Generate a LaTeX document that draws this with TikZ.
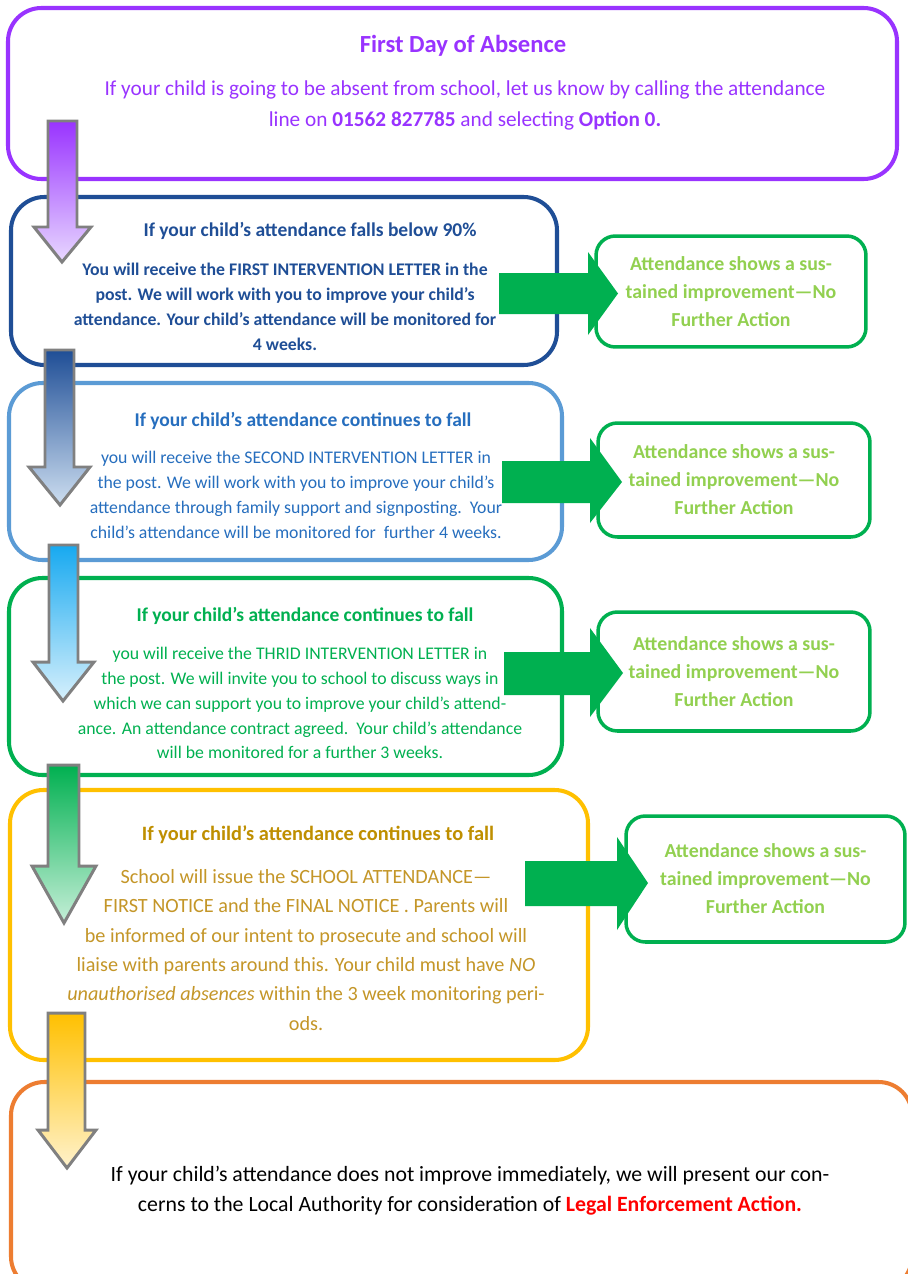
\documentclass[tikz,border=0pt]{standalone}
\usepackage{fontspec}
\setmainfont{Carlito}
\usetikzlibrary{shadings}

\definecolor{absentpurple}{RGB}{153,51,255}
\definecolor{firstblue}{RGB}{31,78,150}
\definecolor{secondline}{RGB}{91,155,213}
\definecolor{secondtext}{RGB}{38,110,190}
\definecolor{okgreen}{RGB}{0,176,80}
\definecolor{oktext}{RGB}{146,208,80}
\definecolor{noticeline}{RGB}{255,192,0}
\definecolor{noticetext}{RGB}{196,150,40}
\definecolor{noticehead}{RGB}{191,143,0}
\definecolor{legalline}{RGB}{237,125,49}
\definecolor{arrowgray}{RGB}{128,128,128}

\tikzset{
  stage/.style={line width=2.3pt, rounded corners=19pt},
  nofa/.style={draw=okgreen, line width=2pt, rounded corners=11pt, align=center,
    text=oktext, font=\bfseries\fontsize{11.3}{15.9}\selectfont},
  headtxt/.style={font=\bfseries\fontsize{11.1}{13}\selectfont},
  bodytxt/.style={align=center, font=\fontsize{10.1}{14.2}\selectfont},
  downarrow/.style={draw=arrowgray, line width=1.7pt},
  sidearrow/.style={fill=okgreen}
}

\begin{document}
\begin{tikzpicture}[x=0.02cm,y=-0.02cm]
    \clip (0,0) rectangle (908,1274);
    \fill[white] (0,0) rectangle (908,1274);

    % stages
    \draw[stage, draw=absentpurple] (8,8) rectangle (897,179);
    \draw[stage, draw=firstblue]    (11,197) rectangle (557,365);
    \draw[stage, draw=secondline]   (9,383) rectangle (562,560);
    \draw[stage, draw=okgreen]      (9,578) rectangle (562,775);
    \draw[stage, draw=noticeline]   (10,790) rectangle (588,1060);
    \draw[stage, draw=legalline]    (11,1082) rectangle (912,1290);

    % texts
    \node[headtxt, text=absentpurple, font=\bfseries\fontsize{14}{16}\selectfont] (absenthead) at (463,46) {First Day of Absence};
    \node[bodytxt, text=absentpurple, font=\fontsize{12.1}{17.6}\selectfont] (absentbody) at (465,105)
      {If your child is going to be absent from school, let us know by calling the attendance\\
       line on \textbf{01562 827785} and selecting \textbf{Option 0.}};

    \node[headtxt, text=firstblue] (firsthead) at (310,231) {If your child’s attendance falls below 90\%};
    \node[bodytxt, text=firstblue, font=\bfseries\fontsize{10.1}{14.2}\selectfont] (firstbody) at (285,307)
      {You will receive the FIRST INTERVENTION LETTER in the\\
       post. We will work with you to improve your child’s\\
       attendance. Your child’s attendance will be monitored for\\
       4 weeks.};

    \node[headtxt, text=secondtext] (secondhead) at (303,421) {If your child’s attendance continues to fall};
    \node[bodytxt, text=secondtext] (secondbody) at (296,495)
      {you will receive the SECOND INTERVENTION LETTER in\\
       the post. We will work with you to improve your child’s\\
       attendance through family support and signposting.\ \ Your\\
       child’s attendance will be monitored for\ \ further 4 weeks.};

    \node[headtxt, text=okgreen] (thirdhead) at (305,616) {If your child’s attendance continues to fall};
    \node[bodytxt, text=okgreen] (thirdbody) at (300,703)
      {you will receive the THRID INTERVENTION LETTER in\\
       the post. We will invite you to school to discuss ways in\\
       which we can support you to improve your child’s attend-\\
       ance. An attendance contract agreed.\ \ Your child’s attendance\\
       will be monitored for a further 3 weeks.};

    \node[headtxt, text=noticehead, font=\bfseries\fontsize{11.6}{13}\selectfont] (noticehead) at (318,835) {If your child’s attendance continues to fall};
    \node[bodytxt, text=noticetext, font=\fontsize{11.5}{16.7}\selectfont] (noticebody) at (306,950)
      {School will issue the SCHOOL ATTENDANCE—\\
       FIRST NOTICE and the FINAL NOTICE . Parents will\\
       be informed of our intent to prosecute and school will\\
       liaise with parents around this. Your child must have \textit{NO}\\
       \textit{unauthorised absences} within the 3 week monitoring peri-\\
       ods.};

    \node[bodytxt, text=black, font=\fontsize{12.4}{17}\selectfont] (legalbody) at (470,1191)
      {If your child’s attendance does not improve immediately, we will present our con-\\
       cerns to the Local Authority for consideration of \textcolor{red}{\textbf{Legal Enforcement Action.}}};

    % no further action
    \node[nofa, minimum width=5.4cm, minimum height=2.22cm]  (ok1) at (731,291.5) {Attendance shows a sus-\\tained improvement—No\\Further Action};
    \node[nofa, minimum width=5.44cm, minimum height=2.28cm] (ok2) at (734,480) {Attendance shows a sus-\\tained improvement—No\\Further Action};
    \node[nofa, minimum width=5.44cm, minimum height=2.38cm] (ok3) at (734,671.5) {Attendance shows a sus-\\tained improvement—No\\Further Action};
    \node[nofa, minimum width=5.58cm, minimum height=2.52cm] (ok4) at (765.5,879) {Attendance shows a sus-\\tained improvement—No\\Further Action};

    % side arrows
    \fill[sidearrow] (499,273) -- (588,273) -- (588,252) -- (618,293.5) -- (588,335) -- (588,314) -- (499,314) -- cycle;
    \fill[sidearrow] (502,461) -- (590,461) -- (590,438) -- (622,482) -- (590,523) -- (590,503) -- (502,503) -- cycle;
    \fill[sidearrow] (504,652) -- (590,652) -- (590,628) -- (623,673) -- (590,717) -- (590,695) -- (504,695) -- cycle;
    \fill[sidearrow] (525,861) -- (617,861) -- (617,837) -- (648,883) -- (617,930) -- (617,906) -- (525,906) -- cycle;

    % down arrows
    \shadedraw[downarrow, top color=absentpurple, bottom color={rgb,255:red,232;green,216;blue,255}]
      (48,121) -- (77,121) -- (77,227) -- (91,227) -- (62,262) -- (34,227) -- (48,227) -- cycle;
    \shadedraw[downarrow, top color=firstblue, bottom color={rgb,255:red,205;green,222;blue,240}]
      (45,350) -- (74,350) -- (74,467) -- (90,467) -- (60,505) -- (29,467) -- (45,467) -- cycle;
    \shadedraw[downarrow, top color={rgb,255:red,23;green,169;blue,240}, bottom color={rgb,255:red,215;green,240;blue,252}]
      (49,545) -- (78,545) -- (78,662) -- (94,662) -- (63,701) -- (33,662) -- (49,662) -- cycle;
    \shadedraw[downarrow, top color=okgreen, bottom color={rgb,255:red,198;green,239;blue,216}]
      (48,765) -- (79,765) -- (79,866) -- (96,866) -- (64,923) -- (32,866) -- (48,866) -- cycle;
    \shadedraw[downarrow, top color=noticeline, bottom color={rgb,255:red,255;green,242;blue,204}]
      (48,1013) -- (85,1013) -- (85,1130) -- (96,1130) -- (67,1168) -- (38,1130) -- (48,1130) -- cycle;
\end{tikzpicture}
\end{document}
